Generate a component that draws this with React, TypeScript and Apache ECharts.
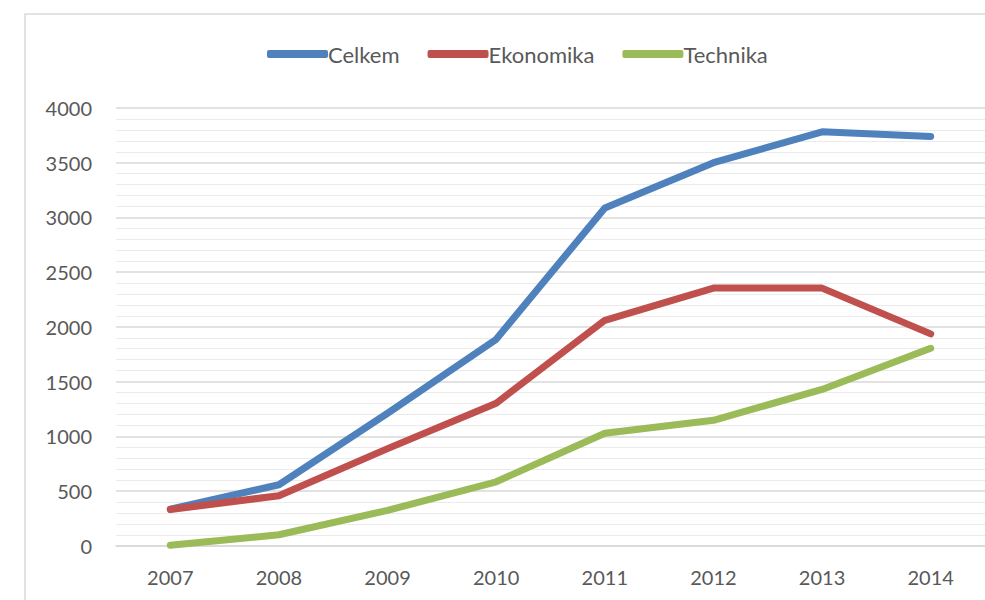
import React, { useEffect, useRef } from "react";
import * as echarts from "echarts";

const years = ["2007", "2008", "2009", "2010", "2011", "2012", "2013", "2014"];
const celkem = [335, 557, 1210, 1886, 3087, 3500, 3782, 3740];
const ekonomika = [330, 457, 887, 1302, 2060, 2354, 2354, 1936];
const technika = [5, 100, 323, 584, 1027, 1146, 1428, 1804];
const seriesNames = ["Celkem", "Ekonomika", "Technika"];
const colors = ["#4F81BD", "#C0504D", "#9BBB59"];

const FONT = "Lato";

export default function App() {
  const ref = useRef<HTMLDivElement>(null);
  useEffect(() => {
    document.body.style.margin = "0";
    const chart = echarts.init(ref.current!, null, { renderer: "svg" });
    const values = [celkem, ekonomika, technika];
    chart.setOption({
      animation: false,
      backgroundColor: "#ffffff",
      color: colors,
      graphic: [
        {
          type: "rect",
          shape: { x: 25, y: 14, width: 1000, height: 1000 },
          style: { fill: "none", stroke: "#d9d9d9", lineWidth: 1.5 },
          silent: true,
          z: -1,
        },
      ],
      legend: {
        top: 38,
        left: 262,
        icon: "roundRect",
        itemWidth: 61,
        itemHeight: 8,
        itemGap: 28,
        textStyle: { color: "#595959", fontSize: 22, fontFamily: FONT, padding: [0, 0, 0, -5] },
        data: seriesNames,
      },
      grid: { left: 116, top: 108, width: 872, height: 437.7 },
      xAxis: {
        type: "category",
        data: years,
        boundaryGap: true,
        axisLine: { show: true, lineStyle: { color: "#d9d9d9", width: 1.5 } },
        axisTick: { show: false },
        axisLabel: { color: "#595959", fontSize: 20, fontFamily: FONT, margin: 21 },
      },
      yAxis: {
        type: "value",
        min: 0,
        max: 4000,
        interval: 500,
        axisLine: { show: false },
        axisTick: { show: false },
        axisLabel: {
          color: "#595959",
          fontSize: 20,
          fontFamily: FONT,
          margin: 24,
          formatter: (v: number) => String(v),
        },
        splitLine: { show: true, lineStyle: { color: "#d9d9d9", width: 1.5 } },
        minorTick: { show: false, splitNumber: 5 },
        minorSplitLine: { show: true, lineStyle: { color: "#ebebeb", width: 1 } },
      },
      series: seriesNames.map((n, i) => ({
        name: n,
        type: "line",
        data: values[i],
        showSymbol: false,
        symbol: "none",
        lineStyle: { width: 7, color: colors[i], cap: "round", join: "round" },
        itemStyle: { color: colors[i] },
      })),
    });
    return () => chart.dispose();
  }, []);
  return <div ref={ref} style={{ width: 985, height: 600 }} />;
}
